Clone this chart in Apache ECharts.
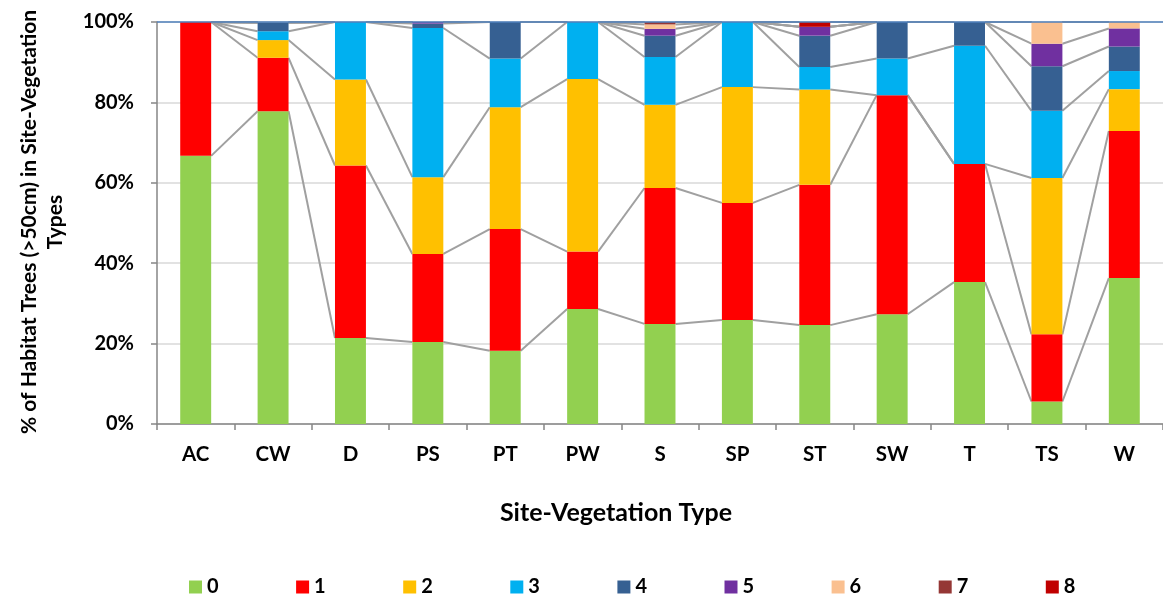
<!DOCTYPE html>
<html>
<head>
<meta charset="utf-8">
<script src="https://cdn.jsdelivr.net/npm/echarts@6/dist/echarts.min.js"></script>
<style>html,body{margin:0;padding:0;background:#fff}#c{width:1163px;height:597px}</style>
</head>
<body>
<div id="c"></div>
<script>
const categories = ['AC','CW','D','PS','PT','PW','S','SP','ST','SW','T','TS','W'];
const seriesNames = ['0','1','2','3','4','5','6','7','8'];
const s0 = [66.7, 77.8, 21.4, 20.4, 18.2, 28.6, 24.9, 25.9, 24.6, 27.3, 35.3, 5.6, 36.3];
const s1 = [33.3, 13.3, 42.9, 21.9, 30.3, 14.3, 33.8, 29.1, 34.9, 54.5, 29.4, 16.7, 36.6];
const s2 = [0, 4.4, 21.4, 19.1, 30.3, 42.9, 20.7, 28.8, 23.7, 0, 0, 38.9, 10.4];
const s3 = [0, 2.2, 14.3, 37.1, 12.1, 14.3, 11.9, 16.2, 5.6, 9.1, 29.4, 16.7, 4.5];
const s4 = [0, 2.2, 0, 1.1, 9.1, 0, 5.3, 0, 7.8, 9.1, 5.9, 11.1, 6.1];
const s5 = [0, 0, 0, 0.5, 0, 0, 1.7, 0, 2.2, 0, 0, 5.6, 4.5];
const s6 = [0, 0, 0, 0, 0, 0, 1.1, 0, 0, 0, 0, 5.4, 1.6];
const s7 = [0, 0, 0, 0, 0, 0, 0.6, 0, 0, 0, 0, 0, 0];
const s8 = [0, 0, 0, 0, 0, 0, 0, 0, 1.2, 0, 0, 0, 0];
const yTicks = [0, 20, 40, 60, 80, 100];

const values = [s0, s1, s2, s3, s4, s5, s6, s7, s8];
const colors = ['#92D050','#FF0000','#FFC000','#00B0F0','#366092','#7030A0','#FAC090','#953735','#C00000'];
const FONT = 'Lato';
const BAR_RATIO = 0.4;

// cumulative tops for series lines
const cum = [];
let run = categories.map(() => 0);
values.forEach(arr => {
  run = run.map((v, i) => Math.min(100, v + arr[i]));
  cum.push(run.slice());
});
const segData = [];
cum.forEach(c => {
  for (let i = 0; i < categories.length - 1; i++) segData.push([i, c[i], c[i + 1]]);
});

const series = seriesNames.map((name, k) => ({
  name: name,
  type: 'bar',
  stack: 'total',
  barWidth: (BAR_RATIO * 100) + '%',
  itemStyle: { color: colors[k] },
  data: values[k],
  z: 3
}));
series[0].markLine = {
  silent: true,
  symbol: 'none',
  label: { show: false },
  lineStyle: { color: '#4F81BD', width: 1.5, type: 'solid' },
  data: [{ yAxis: 100 }],
  z: 10
};
series.push({
  type: 'custom',
  name: 'serieslines',
  silent: true,
  encode: { x: 0, y: [1, 2] },
  data: segData,
  z: 2,
  renderItem: function (params, api) {
    const i = api.value(0);
    const p1 = api.coord([i, api.value(1)]);
    const p2 = api.coord([i + 1, api.value(2)]);
    const half = api.size([1, 0])[0] * BAR_RATIO / 2;
    return {
      type: 'line',
      shape: { x1: p1[0] + half, y1: p1[1], x2: p2[0] - half, y2: p2[1] },
      style: { stroke: '#A0A0A0', lineWidth: 2 }
    };
  }
});

const chart = echarts.init(document.getElementById('c'));
chart.setOption({
  animation: false,
  textStyle: { fontFamily: FONT },
  grid: { left: 157, top: 22, width: 1010, height: 402, containLabel: false },
  xAxis: {
    type: 'category',
    data: categories,
    axisLine: { lineStyle: { color: '#868686', width: 1.5 } },
    axisTick: { show: true, alignWithLabel: false, length: 6, lineStyle: { color: '#868686', width: 1.5 } },
    axisLabel: { color: '#000', fontWeight: 'bold', fontSize: 20.5, fontFamily: FONT, margin: 20 }
  },
  yAxis: {
    type: 'value',
    min: yTicks[0],
    max: yTicks[yTicks.length - 1],
    interval: 20,
    axisLine: { show: true, lineStyle: { color: '#868686', width: 1.5 } },
    axisTick: { show: true, length: 6, lineStyle: { color: '#868686', width: 1.5 } },
    axisLabel: { color: '#000', fontWeight: 'bold', fontSize: 20, fontFamily: FONT, margin: 23, formatter: '{value}%' },
    splitLine: { lineStyle: { color: '#D9D9D9', width: 1.5 } }
  },
  legend: {
    data: seriesNames,
    left: 189,
    top: 577,
    padding: 0,
    icon: 'rect',
    itemWidth: 13,
    itemHeight: 13,
    itemGap: 77.5,
    textStyle: { color: '#000', fontWeight: 'bold', fontSize: 20, fontFamily: FONT }
  },
  graphic: [
    {
      type: 'text',
      x: 42, y: 222,
      rotation: Math.PI / 2,
      style: {
        text: '% of Habitat Trees (>50cm) in Site-Vegetation\nTypes',
        fill: '#000',
        font: 'bold 21px ' + FONT,
        align: 'center',
        verticalAlign: 'middle',
        lineHeight: 26
      }
    },
    {
      type: 'text',
      x: 616, y: 513,
      style: {
        text: 'Site-Vegetation Type',
        fill: '#000',
        font: 'bold 25px ' + FONT,
        align: 'center',
        verticalAlign: 'middle'
      }
    }
  ],
  series: series
});
</script>
</body>
</html>
